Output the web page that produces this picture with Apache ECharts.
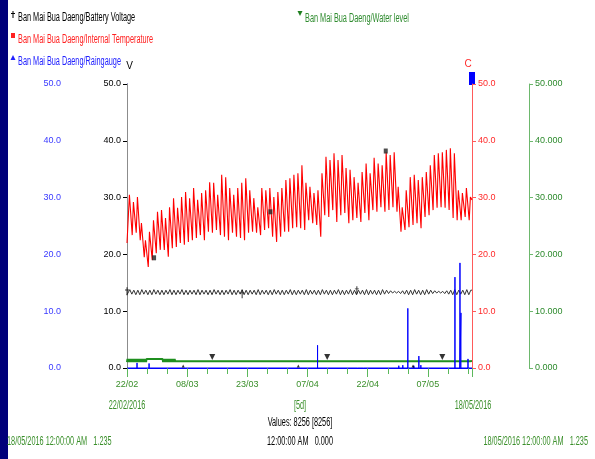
<!DOCTYPE html>
<html>
<head>
<meta charset="utf-8">
<script src="https://cdn.jsdelivr.net/npm/echarts@6/dist/echarts.min.js"></script>
<style>
  html, body { margin: 0; padding: 0; background: #ffffff; }
  #chart { width: 595px; height: 459px; }
</style>
</head>
<body>
<div id="chart"></div>
<script>
// Station series names
const nameBattery = 'Ban Mai Bua Daeng/Battery Voltage';
const nameTemp = 'Ban Mai Bua Daeng/Internal Temperature';
const nameRain = 'Ban Mai Bua Daeng/Raingauge';
const nameWater = 'Ban Mai Bua Daeng/Water level';

// Time span: days counted from 22/02/2016 00:00 to 18/05/2016 00:00
const startYear = 2016, startMonth = 2, startDay = 22;
const spanDays = 86;

// Internal temperature (C): daily low and high
const tempLow = [22.0, 23.4, 23.8, 22.5, 19.5, 17.8, 19.0, 20.2, 20.8, 20.8,
  19.6, 21.1, 21.3, 22.0, 21.7, 22.2, 22.5, 22.9, 23.4, 22.5,
  24.0, 23.8, 24.3, 23.4, 23.1, 22.5, 23.8, 23.1, 22.9, 22.5,
  23.8, 24.0, 23.8, 23.4, 24.3, 24.6, 23.1, 22.2, 23.1, 24.0,
  24.0, 24.6, 24.8, 24.6, 24.3, 26.0, 25.5, 25.2, 23.1, 26.9,
  26.6, 27.8, 25.7, 26.9, 27.3, 25.5, 26.0, 26.4, 25.7, 27.3,
  26.0, 27.8, 27.5, 28.3, 27.5, 27.8, 28.3, 27.5, 24.0, 24.3,
  24.8, 25.2, 25.5, 24.6, 26.6, 26.9, 27.8, 28.2, 28.3, 28.2,
  27.8, 26.4, 26.0, 26.0, 26.6, 26.0];
const tempHigh = [30.5, 29.2, 30.1, 25.5, 22.5, 24.0, 26.0, 27.5, 27.8, 26.4,
  28.3, 29.9, 28.2, 30.1, 31.0, 29.9, 31.7, 29.6, 30.8, 31.3,
  32.7, 32.6, 30.5, 34.0, 33.6, 31.7, 30.5, 31.7, 32.6, 33.4,
  31.3, 29.9, 28.3, 31.7, 31.3, 31.7, 30.1, 31.0, 31.7, 33.1,
  33.4, 34.0, 34.3, 35.7, 32.6, 31.9, 30.8, 31.3, 34.3, 37.2,
  36.6, 37.8, 36.6, 37.5, 35.2, 34.9, 33.6, 32.6, 34.5, 36.0,
  34.3, 37.0, 36.0, 35.7, 38.0, 37.5, 38.0, 31.9, 28.3, 31.3,
  33.6, 34.0, 33.1, 33.6, 34.5, 35.7, 37.5, 37.8, 38.0, 38.4,
  38.7, 37.8, 31.3, 30.8, 31.7, 30.1];
const tempStart = 22.0, tempEnd = 29.6;
const tempMarks = [[6.75, 19.4], [35.75, 27.5], [64.5, 38.2]];

// Battery voltage (V): daily low and high
const batteryHigh = [13.8, 13.7, 13.7, 13.8, 13.7, 13.7, 13.8, 13.7, 13.7, 13.7,
  13.8, 13.7, 13.7, 13.8, 13.7, 13.7, 13.7, 13.8, 13.7, 13.7,
  13.7, 13.8, 13.7, 13.7, 13.7, 13.8, 13.7, 13.7, 13.8, 13.7,
  13.7, 13.7, 13.8, 13.7, 13.7, 13.7, 13.8, 13.7, 13.7, 13.7,
  13.8, 13.7, 13.7, 13.7, 13.8, 13.7, 13.7, 13.7, 13.8, 13.7,
  13.7, 13.7, 13.8, 13.7, 13.7, 13.8, 13.7, 13.7, 13.7, 13.8,
  13.7, 13.7, 13.7, 13.8, 13.7, 13.6, 13.5, 13.5, 13.6, 13.7,
  13.7, 13.8, 13.7, 13.7, 13.8, 13.7, 13.6, 13.5, 13.5, 13.6,
  13.7, 13.8, 13.7, 13.7, 13.8, 13.7];
const batteryLow = [12.9, 13.0, 12.9, 12.9, 13.0, 12.9, 12.9, 13.0, 12.9, 12.9,
  13.0, 12.9, 12.9, 13.0, 12.9, 12.9, 13.0, 12.9, 12.9, 13.0,
  12.9, 12.9, 13.0, 12.9, 12.9, 13.0, 12.9, 12.9, 13.0, 12.9,
  12.9, 13.0, 12.9, 12.9, 13.0, 12.9, 12.9, 13.0, 12.9, 12.9,
  13.0, 12.9, 12.9, 13.0, 12.9, 12.9, 13.0, 12.9, 12.9, 13.0,
  12.9, 12.9, 13.0, 12.9, 12.9, 13.0, 12.9, 12.9, 13.0, 12.9,
  12.9, 13.0, 12.9, 12.9, 13.0, 13.1, 13.2, 13.2, 13.1, 13.0,
  12.9, 12.9, 13.0, 12.9, 12.9, 13.0, 13.1, 13.2, 13.2, 13.1,
  13.0, 12.9, 12.9, 13.0, 12.9, 12.9];
const batteryMarks = [[0, 13.5], [28.7, 13.0], [57.3, 13.7]];

// Rain gauge (mm): event day and amount
const rainDays = [2.5, 5.5, 47.5, 57.5, 59.0, 67.75, 68.75, 70.0, 71.5, 72.75, 73.25, 81.75, 83.0, 83.25, 85.0];
const rainValues = [0.9, 0.8, 4.0, 0.3, 0.3, 0.4, 0.5, 10.5, 0.4, 2.1, 0.5, 16.0, 18.5, 9.7, 1.6];
const rainMarks = [[14.0, 0], [42.7, 0], [71.3, 0]];

// Water level (m): daily low and high
const waterHigh = [1.60, 1.60, 1.60, 1.60, 1.60, 1.60, 1.60, 1.60, 1.60, 1.60,
  1.60, 1.60, 1.45, 1.45, 1.45, 1.45, 1.45, 1.45, 1.24, 1.24,
  1.24, 1.24, 1.24, 1.24, 1.24, 1.24, 1.24, 1.24, 1.24, 1.24,
  1.24, 1.24, 1.24, 1.24, 1.24, 1.24, 1.24, 1.24, 1.24, 1.24,
  1.24, 1.24, 1.24, 1.24, 1.24, 1.24, 1.24, 1.24, 1.24, 1.24,
  1.24, 1.24, 1.24, 1.24, 1.24, 1.24, 1.24, 1.24, 1.24, 1.24,
  1.24, 1.24, 1.24, 1.24, 1.24, 1.24, 1.24, 1.24, 1.24, 1.24,
  1.24, 1.24, 1.24, 1.24, 1.24, 1.24, 1.24, 1.24, 1.24, 1.24,
  1.24, 1.24, 1.24, 1.24, 1.24, 1.24];
const waterLow = [1.05, 1.05, 1.05, 1.05, 1.05, 1.40, 1.40, 1.40, 1.40, 1.05,
  1.05, 1.05, 1.20, 1.20, 1.20, 1.20, 1.20, 1.20, 1.20, 1.20,
  1.20, 1.20, 1.20, 1.20, 1.20, 1.20, 1.20, 1.20, 1.20, 1.20,
  1.20, 1.20, 1.20, 1.20, 1.20, 1.20, 1.20, 1.20, 1.20, 1.20,
  1.20, 1.20, 1.20, 1.20, 1.20, 1.20, 1.20, 1.20, 1.20, 1.20,
  1.20, 1.20, 1.20, 1.20, 1.20, 1.20, 1.20, 1.20, 1.20, 1.20,
  1.20, 1.20, 1.20, 1.20, 1.20, 1.20, 1.20, 1.20, 1.20, 1.20,
  1.20, 1.20, 1.20, 1.20, 1.20, 1.20, 1.20, 1.20, 1.20, 1.20,
  1.20, 1.20, 1.20, 1.20, 1.20, 1.20];
const waterEnd = 1.235;
const waterMarks = [[21.25, 1.235], [49.9, 1.235], [78.6, 1.235]];

// Axis ticks
const axisMin = 0, axisMax = 50, axisStep = 10;
const dayMajorStep = 15, dayMinorStep = 5;

// Footer texts
const footStart = '22/02/2016';
const footEnd = '18/05/2016';
const footPeriod = '[5d]';
const footCount = 'Values: 8256 [8256]';
const footLeft = '18/05/2016 12:00:00 AM   1.235';
const footMid = '12:00:00 AM   0.000';
const footRight = '18/05/2016 12:00:00 AM   1.235';

// ---- build series from the daily readings ----
const tempData = [[0, tempStart]];
tempLow.forEach((lo, d) => { tempData.push([d + 0.3, lo]); tempData.push([d + 0.6, tempHigh[d]]); });
tempData.push([spanDays, tempEnd]);

const batteryData = [[0, batteryLow[0]]];
batteryLow.forEach((lo, d) => { batteryData.push([d + 0.2, lo]); batteryData.push([d + 0.7, batteryHigh[d]]); });
batteryData.push([spanDays, batteryHigh[batteryHigh.length - 1]]);

const rainData = [[0, 0]];
rainDays.forEach((t, i) => { rainData.push([t, 0]); rainData.push([t, rainValues[i]]); rainData.push([t, 0]); });
rainData.push([spanDays, 0]);

const waterData = [];
waterLow.forEach((lo, d) => {
  for (let k = 0; k < 8; k++) waterData.push([d + k / 8, k % 2 ? waterHigh[d] : lo]);
});
waterData.push([spanDays, waterEnd]);

// ---- styling ----
const FONT = '"Liberation Sans", Arial, sans-serif';
const SQUEEZE = 0.61;           // narrow lettering of the logger software
const GREEN_TXT = '#3a8f2a';

function dayLabel(d) {
  const t = new Date(Date.UTC(startYear, startMonth - 1, startDay) + d * 86400000);
  const dd = String(t.getUTCDate()).padStart(2, '0');
  const mm = String(t.getUTCMonth() + 1).padStart(2, '0');
  return dd + '/' + mm;
}

// narrow text drawn as a graphic element
function narrowText(text, x, y, color, align) {
  return {
    type: 'text', x: x, y: y, scaleX: SQUEEZE, silent: true,
    style: { text: text, fill: color, font: '12px ' + FONT, textAlign: align, textVerticalAlign: 'middle' }
  };
}

function yAxisCfg(opts) {
  return {
    type: 'value', min: axisMin, max: axisMax, interval: axisStep,
    position: opts.position, offset: opts.offset,
    name: opts.name || '', nameLocation: 'end', nameGap: opts.nameGap || 14,
    nameTextStyle: Object.assign({ fontFamily: FONT, fontSize: 10, color: opts.txt }, opts.nameStyle || {}),
    axisLine: { show: true, lineStyle: { color: opts.line, width: 1 } },
    axisTick: { show: true, length: 4, lineStyle: { color: opts.tick || opts.line } },
    axisLabel: { color: opts.txt, fontFamily: FONT, fontSize: 9, margin: 6,
      formatter: v => v.toFixed(opts.digits) },
    splitLine: { show: false }
  };
}

const chart = echarts.init(document.getElementById('chart'), null, { renderer: 'canvas' });

chart.setOption({
  animation: false,
  backgroundColor: '#ffffff',
  grid: { left: 127, right: 123, top: 84, bottom: 91, containLabel: false },
  xAxis: [
    {
      type: 'value', min: 0, max: spanDays, interval: dayMajorStep, position: 'bottom',
      axisLine: { show: true, lineStyle: { color: '#0000ff', width: 1 } },
      axisTick: { show: true, length: 9, lineStyle: { color: '#5cb85c' } },
      axisLabel: { color: GREEN_TXT, fontFamily: FONT, fontSize: 9, margin: 12,
        formatter: v => (v % dayMajorStep === 0 ? dayLabel(v) : '') },
      splitLine: { show: false }
    },
    {
      type: 'value', min: 0, max: spanDays, interval: dayMinorStep, position: 'bottom',
      axisLine: { show: false },
      axisTick: { show: true, length: 6, lineStyle: { color: '#5cb85c' } },
      axisLabel: { show: false },
      splitLine: { show: false }
    }
  ],
  yAxis: [
    yAxisCfg({ position: 'left', offset: 60, line: '#3333ff', txt: '#3a3aff', digits: 1 }),
    yAxisCfg({ position: 'left', offset: 0, line: '#8c8c8c', tick: '#000000', txt: '#000000', digits: 1,
      name: 'V', nameGap: 13, nameStyle: { padding: [0, 0, 0, 5] } }),
    yAxisCfg({ position: 'right', offset: 0, line: '#ff5a5a', txt: '#ff2a2a', digits: 1,
      name: 'C', nameGap: 15, nameStyle: { padding: [0, 8, 0, 0] } }),
    yAxisCfg({ position: 'right', offset: 57, line: '#6db86d', txt: '#2e8b2e', digits: 3 })
  ],
  series: [
    { name: nameWater, type: 'line', yAxisIndex: 3, data: waterData, symbol: 'none',
      lineStyle: { color: '#1f8f1f', width: 2 }, itemStyle: { color: '#1f8f1f' }, z: 2 },
    { name: nameBattery, type: 'line', yAxisIndex: 1, data: batteryData, symbol: 'none',
      lineStyle: { color: '#333333', width: 1 }, itemStyle: { color: '#000000' }, z: 2 },
    { name: nameTemp, type: 'line', yAxisIndex: 2, data: tempData, symbol: 'none',
      lineStyle: { color: '#ff0000', width: 1.1 }, itemStyle: { color: '#ff0000' }, z: 2 },
    { name: nameRain, type: 'line', yAxisIndex: 0, data: rainData, symbol: 'none',
      lineStyle: { color: '#0000ff', width: 1 }, itemStyle: { color: '#0000ff' }, z: 3 },
    { name: 'battery marks', type: 'scatter', yAxisIndex: 1, data: batteryMarks,
      symbol: 'path://M1.5,0h1v9h-1z M0,2.5h4v1h-4z', symbolSize: [4, 8],
      itemStyle: { color: '#000000' }, z: 4 },
    { name: 'temperature marks', type: 'scatter', yAxisIndex: 2, data: tempMarks,
      symbol: 'path://M0,0h4v5h-4z', symbolSize: [4, 5],
      itemStyle: { color: '#222222' }, z: 4 },
    { name: 'rain marks', type: 'scatter', yAxisIndex: 0, data: rainMarks,
      symbol: 'triangle', symbolSize: [3, 3], symbolOffset: [0, -2],
      itemStyle: { color: '#000000' }, z: 4 },
    { name: 'water marks', type: 'scatter', yAxisIndex: 3, data: waterMarks,
      symbol: 'path://M0,0L6,0L3,6z', symbolSize: [6, 6], symbolOffset: [0, -4],
      itemStyle: { color: '#000000' }, z: 4 }
  ],
  graphic: [
    // left window edge
    { type: 'rect', left: 0, top: 0, shape: { width: 8, height: 459 }, style: { fill: '#00007a' }, silent: true },
    // scale handle above the temperature axis
    { type: 'rect', left: 469, top: 72, shape: { width: 6, height: 13 }, style: { fill: '#0000ff' }, silent: true },

    // series key
    { type: 'polygon', shape: { points: [[12.5, 11], [13.5, 11], [13.5, 18], [12.5, 18]] }, style: { fill: '#000000' }, silent: true },
    { type: 'rect', shape: { x: 11, y: 13, width: 4, height: 1 }, style: { fill: '#000000' }, silent: true },
    narrowText(nameBattery, 18, 18, '#000000', 'left'),
    { type: 'rect', shape: { x: 11, y: 33, width: 4, height: 5 }, style: { fill: '#ff2020' }, silent: true },
    narrowText(nameTemp, 18, 40, '#ff2020', 'left'),
    { type: 'polygon', shape: { points: [[13, 55], [15.5, 60], [10.5, 60]] }, style: { fill: '#2020ff' }, silent: true },
    narrowText(nameRain, 18, 62, '#2020ff', 'left'),
    { type: 'polygon', shape: { points: [[297.5, 11], [302.5, 11], [300, 16]] }, style: { fill: '#1f7f1f' }, silent: true },
    narrowText(nameWater, 305, 19, '#2e8b2e', 'left'),

    // footer
    narrowText(footStart, 127, 406, GREEN_TXT, 'center'),
    narrowText(footPeriod, 300, 406, GREEN_TXT, 'center'),
    narrowText(footEnd, 473, 406, GREEN_TXT, 'center'),
    narrowText(footCount, 300, 423, '#000000', 'center'),
    narrowText(footLeft, 7, 442, GREEN_TXT, 'left'),
    narrowText(footMid, 300, 442, '#000000', 'center'),
    narrowText(footRight, 588, 442, GREEN_TXT, 'right')
  ]
});
</script>
</body>
</html>
